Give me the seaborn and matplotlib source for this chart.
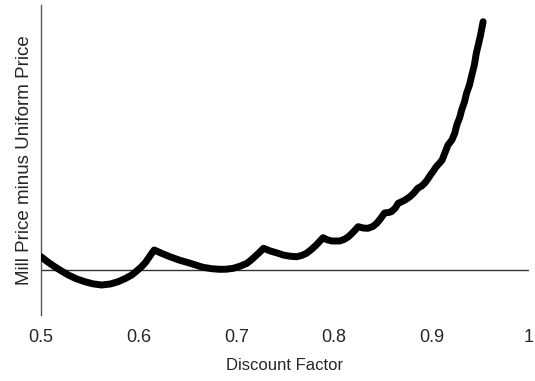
import matplotlib
matplotlib.use("Agg")
import matplotlib.pyplot as plt
import seaborn as sns
import pandas as pd

# values (y in arbitrary units, no y tick labels)
discount = [0.500, 0.507, 0.514, 0.521, 0.528, 0.536, 0.545, 0.553, 0.562, 0.571,
            0.579, 0.586, 0.593, 0.598, 0.603, 0.607, 0.610, 0.613, 0.616,
            0.624, 0.632, 0.642, 0.653, 0.660, 0.666, 0.675, 0.683, 0.690,
            0.697, 0.704, 0.711, 0.715, 0.719, 0.724, 0.728,
            0.735, 0.743, 0.748, 0.755, 0.762, 0.767, 0.772, 0.777, 0.782, 0.789,
            0.793, 0.798, 0.806, 0.811, 0.815, 0.820, 0.825,
            0.830, 0.835, 0.840, 0.844, 0.848, 0.852,
            0.856, 0.859, 0.863, 0.866, 0.870, 0.873,
            0.878, 0.882, 0.886,
            0.890, 0.893, 0.896, 0.899, 0.902, 0.905, 0.908, 0.911, 0.914,
            0.917, 0.921, 0.924, 0.926, 0.929, 0.931,
            0.934, 0.936, 0.939, 0.941, 0.944, 0.946, 0.948, 0.950, 0.953]
price_gap = [13.3, 8.0, 3.3, -1.0, -5.0, -8.7, -11.7, -13.8, -15.0, -14.0,
             -11.7, -8.7, -5.0, -1.0, 3.3, 7.5, 11.7, 16.0, 20.0,
             16.5, 13.3, 9.8, 6.7, 4.5, 2.7, 1.3, 0.7, 0.8,
             1.7, 3.8, 6.7, 9.7, 13.3, 17.8, 21.7,
             19.0, 16.7, 15.0, 13.8, 13.3, 14.5, 16.7, 20.5, 25.0, 32.3,
             30.3, 29.0, 29.0, 30.8, 33.3, 38.0, 43.3,
             42.0, 41.7, 43.5, 46.7, 51.5, 57.0,
             57.5, 58.3, 62.0, 66.7, 68.5, 70.0,
             73.3, 77.0, 81.7,
             84.0, 86.7, 90.5, 95.0, 99.0, 103.3, 106.5, 110.0, 117.5,
             125.0, 130.0, 137.0, 145.0, 152.5, 160.0,
             168.5, 176.7, 185.0, 193.3, 205.0, 216.7, 225.0, 233.3, 248.3]

df = pd.DataFrame({"Discount Factor": discount, "Gap": price_gap})

sns.set_style("white")
plt.rcParams["font.family"] = ["Liberation Sans", "DejaVu Sans"]

fig = plt.figure(figsize=(5.35, 3.81), dpi=100)
ax = fig.add_axes([41 / 535, 1 - 315 / 381, 488 / 535, 310 / 381])

ax.axhline(0, color="#333333", linewidth=1.0, zorder=1)
sns.lineplot(data=df, x="Discount Factor", y="Gap", ax=ax, color="black",
             linewidth=5, solid_capstyle="round", solid_joinstyle="round", zorder=3)

ax.set_xlim(0.5, 1.0)
ax.set_ylim(-45, 265)
ax.set_xticks([0.5, 0.6, 0.7, 0.8, 0.9, 1.0])
ax.set_xticklabels(["0.5", "0.6", "0.7", "0.8", "0.9", "1"])
ax.set_yticks([])
ax.tick_params(axis="x", length=0, pad=10, labelsize=13)

for side in ["top", "right", "bottom"]:
    ax.spines[side].set_visible(False)
ax.spines["left"].set_color("#555555")
ax.spines["left"].set_linewidth(1.0)

ax.set_xlabel("Discount Factor", fontsize=12, labelpad=9)
ax.set_ylabel("Mill Price minus Uniform Price", fontsize=13.5, labelpad=6)

fig.savefig("out.png", dpi=100)
